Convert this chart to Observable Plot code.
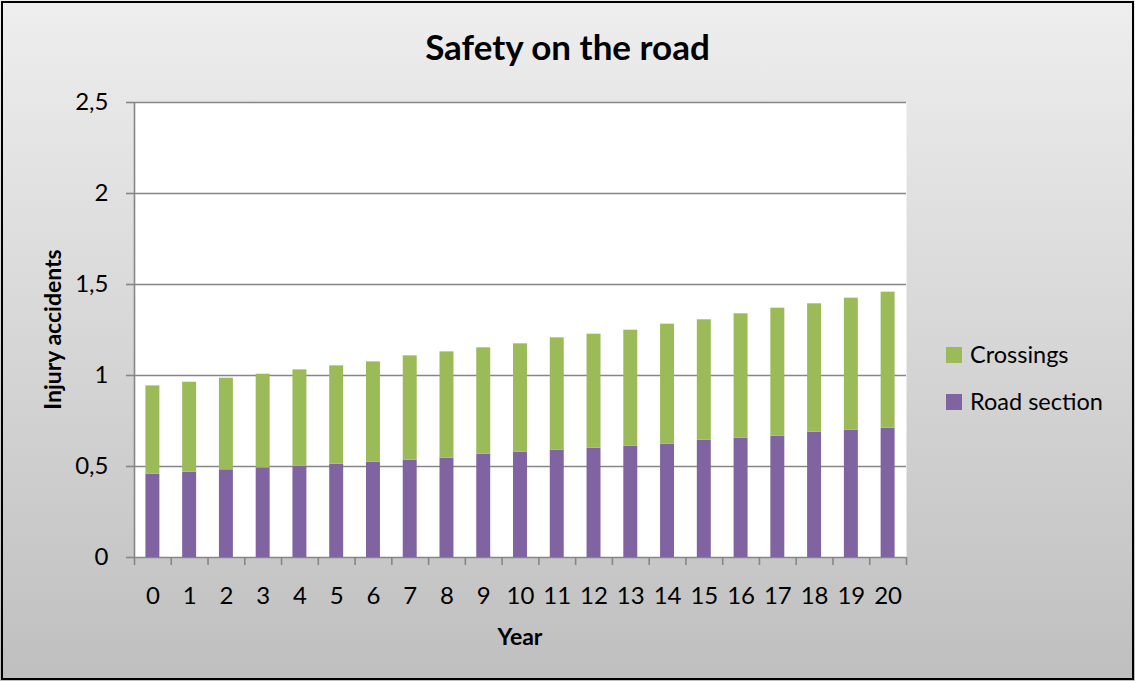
<!DOCTYPE html>
<html>
<head>
<meta charset="utf-8">
<script src="https://cdn.jsdelivr.net/npm/d3@7"></script>
<script src="https://cdn.jsdelivr.net/npm/@observablehq/plot@0.6"></script>
<style>
  html, body { margin: 0; padding: 0; background: #fff; }
  #chart { position: relative; width: 1135px; height: 681px; overflow: hidden;
           background: linear-gradient(to bottom, #eeeeee, #bfbfbf); font-family: Lato, sans-serif; }
  #chart > svg { position: absolute; left: 0; top: 0; }
  #frame { position: absolute; left: 1px; top: 1px; width: 1129px; height: 675px;
           border: 2px solid #000; pointer-events: none; }
</style>
</head>
<body>
<div id="chart"><div id="frame"></div></div>
<script>
const title = "Safety on the road";
const xTitle = "Year";
const yTitle = "Injury accidents";
const years = [0,1,2,3,4,5,6,7,8,9,10,11,12,13,14,15,16,17,18,19,20];
const roadSection = [0.458,0.469,0.482,0.493,0.502,0.513,0.524,0.535,0.546,0.568,0.579,
                     0.590,0.601,0.612,0.623,0.645,0.656,0.667,0.689,0.700,0.711];
const crossings   = [0.485,0.494,0.503,0.514,0.529,0.540,0.551,0.573,0.584,0.584,0.595,
                     0.617,0.626,0.637,0.659,0.661,0.683,0.703,0.705,0.725,0.747];
const yTicks = [0, 0.5, 1, 1.5, 2, 2.5];
const seriesNames = ["Road section", "Crossings"];
const seriesColors = ["#8064a2", "#9bbb59"];

const data = [];
years.forEach((yr, i) => {
  data.push({year: yr, series: "Road section", value: roadSection[i]});
  data.push({year: yr, series: "Crossings", value: crossings[i]});
});

const W = 1135, H = 681;
const mL = 134, mR = 229, mT = 102, mB = 124;
const step = (W - mL - mR) / years.length;
const axisGray = "#868686";

const plot = Plot.plot({
  width: W, height: H,
  marginLeft: mL, marginRight: mR, marginTop: mT, marginBottom: mB,
  style: {background: "transparent", fontFamily: "Lato, sans-serif", fontSize: "24px", color: "#000", overflow: "visible"},
  x: {type: "band", domain: years, paddingInner: 0.62, paddingOuter: 0.31, round: false, label: null},
  y: {domain: [0, 2.5], label: null},
  color: {domain: seriesNames, range: seriesColors},
  marks: [
    Plot.frame({fill: "#fff", stroke: null}),
    Plot.gridY(yTicks, {stroke: axisGray, strokeWidth: 1.6, strokeOpacity: 1}),
    Plot.barY(data, {x: "year", y: "value", fill: "series", order: seriesNames}),
    Plot.ruleX([years[0]], {dx: -step / 2, stroke: axisGray, strokeWidth: 1.6}),
    Plot.axisY(yTicks, {tickSize: 8, tickPadding: 18, stroke: axisGray, strokeWidth: 1.6, fill: "#000",
                        tickFormat: d => String(d).replace(".", ","), label: null}),
    Plot.axisX({tickSize: 0, tickPadding: 29, fill: "#000", label: null}),
    Plot.axisX(years, {tickSize: 8, dx: -step / 2, stroke: axisGray, strokeWidth: 1.6, tickFormat: () => "", label: null}),
    Plot.axisX([years[years.length - 1]], {tickSize: 8, dx: step / 2, stroke: axisGray, strokeWidth: 1.6, tickFormat: () => "", label: null})
  ]
});
const chart = document.getElementById("chart");
chart.insertBefore(plot, document.getElementById("frame"));

// overlay for titles and legend
const svg = d3.select(chart).append("svg")
  .attr("width", W).attr("height", H)
  .style("position", "absolute").style("left", 0).style("top", 0)
  .style("font-family", "Lato, sans-serif");

svg.append("text").attr("x", W / 2).attr("y", 60).attr("text-anchor", "middle")
  .attr("font-size", 35).attr("font-weight", "bold").attr("fill", "#000").text(title);

svg.append("text").attr("x", mL + (W - mL - mR) / 2).attr("y", 645).attr("text-anchor", "middle")
  .attr("font-size", 23).attr("font-weight", "bold").attr("fill", "#000").text(xTitle);

svg.append("text").attr("transform", `translate(61,${mT + (H - mT - mB) / 2}) rotate(-90)`)
  .attr("text-anchor", "middle")
  .attr("font-size", 23).attr("font-weight", "bold").attr("fill", "#000").text(yTitle);

const legendItems = seriesNames.map((s, i) => ({name: s, color: seriesColors[i]})).reverse();
legendItems.forEach((d, i) => {
  const y0 = 347 + i * 47;
  svg.append("rect").attr("x", 946).attr("y", y0).attr("width", 16).attr("height", 16).attr("fill", d.color);
  svg.append("text").attr("x", 970).attr("y", y0 + 16).attr("font-size", 23.5).attr("fill", "#000").text(d.name);
});
</script>
</body>
</html>
